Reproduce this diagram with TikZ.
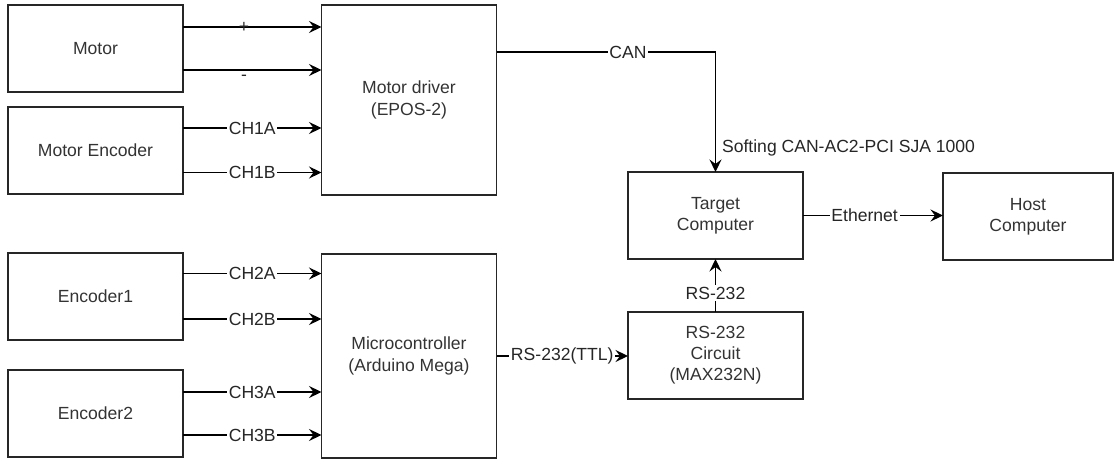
\documentclass[tikz,border=0pt]{standalone}
\usepackage{fontspec}
\setmainfont{Liberation Sans}
\usepackage{xcolor}
\usepackage{tikz}
\usetikzlibrary{positioning, arrows.meta}

\begin{document}
\begin{tikzpicture}[
    node distance=0.3cm and 2.8cm,
    font=\fontsize{10}{12}\selectfont,
    block/.style={rectangle, draw=black!85, line width=0.9pt, text=black!80, minimum width=3.5cm, minimum height=1.74cm, align=center, inner sep=0pt, outer sep=0pt},
    wire/.style={-{Stealth[length=2.5mm, width=2.4mm, inset=0.9mm]}, line width=0.8pt, draw=black},
    sig/.style={fill=white, inner sep=1pt, text=black!85}
]
\useasboundingbox (0,0) rectangle (22.28,-9.22);

% left column
\node[block] (motor) at (1.91,-0.97) {Motor};
\node[block] (menc) [below=0.3cm of motor] {Motor Encoder};
\node[block] (enc1) [below=1.18cm of menc] {Encoder1};
\node[block] (enc2) [below=0.6cm of enc1] {Encoder2};

% middle column
\node[block, minimum height=3.8cm] (driver) at (8.18,-2.0) {Motor driver\\(EPOS-2)};
\node[block, minimum height=4.08cm] (micro) at (8.18,-7.12) {Microcontroller\\(Arduino Mega)};

% right side
\node[block] (target) at (14.31,-4.31) {Target\\Computer};
\node[block] (circuit) [below=1.06cm of target] {RS-232\\Circuit\\(MAX232N)};
\node[block, minimum width=3.4cm] (host) [right=2.8cm of target, yshift=-0.02cm] {Host\\Computer};

% motor and encoders
\draw[wire] ([yshift=4.3mm]motor.east) -- node[pos=0.44, text=black!85] {+} ([yshift=4.3mm]motor.east -| driver.west);
\draw[wire] ([yshift=-4.3mm]motor.east) -- node[pos=0.44, below=-1pt, text=black!85] {-} ([yshift=-4.3mm]motor.east -| driver.west);
\draw[wire] ([yshift=4.5mm]menc.east) -- node[sig] {CH1A} ([yshift=4.5mm]menc.east -| driver.west);
\draw[wire] ([yshift=-4.4mm]menc.east) -- node[sig] {CH1B} ([yshift=-4.4mm]menc.east -| driver.west);
\draw[wire] ([yshift=4.6mm]enc1.east) -- node[sig] {CH2A} ([yshift=4.6mm]enc1.east -| micro.west);
\draw[wire] ([yshift=-4.5mm]enc1.east) -- node[sig] {CH2B} ([yshift=-4.5mm]enc1.east -| micro.west);
\draw[wire] ([yshift=4.3mm]enc2.east) -- node[sig] {CH3A} ([yshift=4.3mm]enc2.east -| micro.west);
\draw[wire] ([yshift=-4.3mm]enc2.east) -- node[sig] {CH3B} ([yshift=-4.3mm]enc2.east -| micro.west);

% buses
\draw[wire] ([yshift=9.6mm]driver.east) -| node[sig, pos=0.3] {CAN} node[right=0pt, pos=0.9, text=black!85] {Softing CAN-AC2-PCI SJA 1000} (target.north);
\draw[wire] (target) -- node[sig, pos=0.44] {Ethernet} (target -| host.west);
\draw[wire] (micro) -- node[sig] {RS-232(TTL)} (micro -| circuit.west);
\draw[wire] (circuit) -- node[sig, pos=0.35] {RS-232} (target);
\end{tikzpicture}
\end{document}
